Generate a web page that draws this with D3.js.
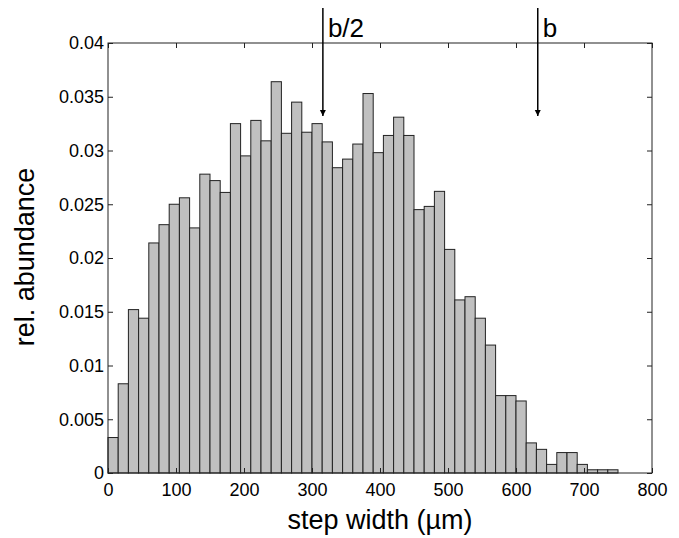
<!DOCTYPE html>
<html lang="en">
<head>
  <meta charset="UTF-8">
  <title>step width histogram</title>
  <script src="https://cdn.jsdelivr.net/npm/d3@7/dist/d3.min.js"></script>
  <style>
    body { margin: 0; background: #fff; }
    svg { display: block; font-family: "Liberation Sans", Arial, sans-serif; }
  </style>
</head>
<body>
<div id="chart"></div>
<script>
  // bin lower edges (µm), bin width 15
  const binLo = [0, 15, 30, 45, 60, 75, 90, 105, 120, 135,
    150, 165, 180, 195, 210, 225, 240, 255, 270, 285,
    300, 315, 330, 345, 360, 375, 390, 405, 420, 435,
    450, 465, 480, 495, 510, 525, 540, 555, 570, 585,
    600, 615, 630, 645, 660, 675, 690, 705, 720, 735];
  const binW = 15;
  // relative abundance per bin
  const abundance = [0.0033, 0.0083, 0.0152, 0.0144, 0.0214, 0.0231, 0.0250, 0.0256, 0.0228, 0.0278,
    0.0272, 0.0261, 0.0325, 0.0295, 0.0328, 0.0309, 0.0364, 0.0316, 0.0345, 0.0317,
    0.0325, 0.0308, 0.0284, 0.0292, 0.0306, 0.0353, 0.0298, 0.0314, 0.0331, 0.0314,
    0.0245, 0.0248, 0.0262, 0.0208, 0.0161, 0.0164, 0.0144, 0.0119, 0.0072, 0.0072,
    0.0067, 0.0028, 0.0022, 0.0008, 0.0019, 0.0019, 0.0008, 0.0003, 0.0003, 0.0003];

  const xTicks = [0, 100, 200, 300, 400, 500, 600, 700, 800];
  const yTicks = [0, 0.005, 0.01, 0.015, 0.02, 0.025, 0.03, 0.035, 0.04];

  // marker arrows (b/2 and b)
  const markLabels = ['b/2', 'b'];
  const markPos = [316, 632];

  const width = 679, height = 538;
  const margin = {top: 43, right: 27, bottom: 65, left: 108};

  const x = d3.scaleLinear().domain([0, 800]).range([margin.left, width - margin.right]);
  const y = d3.scaleLinear().domain([0, 0.04]).range([height - margin.bottom, margin.top]);

  const svg = d3.select('#chart').append('svg')
    .attr('width', width)
    .attr('height', height);

  svg.append('defs').append('marker')
    .attr('id', 'arrow')
    .attr('viewBox', '0 0 10 10')
    .attr('refX', 10).attr('refY', 5)
    .attr('markerWidth', 6).attr('markerHeight', 7)
    .attr('markerUnits', 'userSpaceOnUse')
    .attr('orient', 'auto')
    .append('path')
    .attr('d', 'M0,0L10,5L0,10Z')
    .attr('fill', '#000');

  // bars
  svg.append('g')
    .selectAll('rect')
    .data(binLo)
    .join('rect')
    .attr('x', d => x(d))
    .attr('width', d => x(d + binW) - x(d))
    .attr('y', (d, i) => y(abundance[i]))
    .attr('height', (d, i) => y(0) - y(abundance[i]))
    .attr('fill', '#c0c0c0')
    .attr('stroke', '#222')
    .attr('stroke-width', 1);

  const fmt = d => d === 0 ? '0' : String(+d.toFixed(3));

  // axes, ticks pointing inward
  const styleAxis = g => {
    g.select('.domain').remove();
    g.selectAll('.tick line').attr('stroke', '#222');
    g.selectAll('.tick text').attr('fill', '#000').attr('font-size', 18)
      .attr('font-family', '"Liberation Sans", Arial, sans-serif');
  };

  svg.append('g')
    .attr('transform', `translate(0,${y(0)})`)
    .call(d3.axisBottom(x).tickValues(xTicks).tickSizeInner(-5).tickSizeOuter(0).tickPadding(10).tickFormat(d3.format('d')))
    .call(styleAxis);

  svg.append('g')
    .attr('transform', `translate(0,${y(0.04)})`)
    .call(d3.axisTop(x).tickValues(xTicks).tickSizeInner(-5).tickSizeOuter(0).tickFormat(''))
    .call(styleAxis);

  svg.append('g')
    .attr('transform', `translate(${x(0)},0)`)
    .call(d3.axisLeft(y).tickValues(yTicks).tickSizeInner(-5).tickSizeOuter(0).tickPadding(4).tickFormat(fmt))
    .call(styleAxis);

  svg.append('g')
    .attr('transform', `translate(${x(800)},0)`)
    .call(d3.axisRight(y).tickValues(yTicks).tickSizeInner(-5).tickSizeOuter(0).tickFormat(''))
    .call(styleAxis);

  // frame
  svg.append('rect')
    .attr('x', x(0)).attr('y', y(0.04))
    .attr('width', x(800) - x(0)).attr('height', y(0) - y(0.04))
    .attr('fill', 'none')
    .attr('stroke', '#222')
    .attr('stroke-width', 1);

  // arrows
  const marks = svg.append('g');
  marks.selectAll('line')
    .data(markPos)
    .join('line')
    .attr('x1', d => x(d)).attr('x2', d => x(d))
    .attr('y1', 8).attr('y2', 116)
    .attr('stroke', '#000')
    .attr('stroke-width', 1.5)
    .attr('marker-end', 'url(#arrow)');

  marks.selectAll('text')
    .data(markPos)
    .join('text')
    .attr('x', d => x(d) + 5)
    .attr('y', 37)
    .attr('font-size', 26)
    .text((d, i) => markLabels[i]);

  // axis titles
  svg.append('text')
    .attr('x', (x(0) + x(800)) / 2)
    .attr('y', 529)
    .attr('text-anchor', 'middle')
    .attr('font-size', 27)
    .text('step width (µm)');

  svg.append('text')
    .attr('transform', `translate(34,257) rotate(-90)`)
    .attr('text-anchor', 'middle')
    .attr('font-size', 27)
    .text('rel. abundance');
</script>
</body>
</html>
